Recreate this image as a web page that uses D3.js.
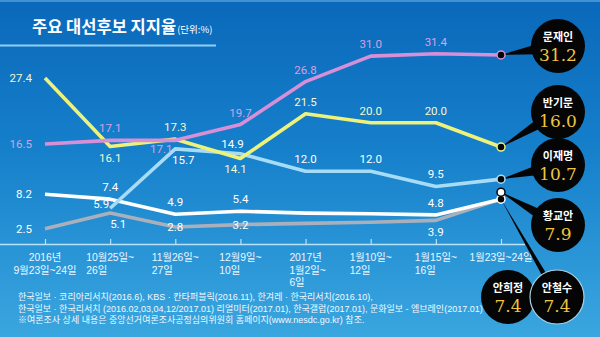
<!DOCTYPE html>
<html>
<head>
<meta charset="utf-8">
<script src="https://cdn.jsdelivr.net/npm/d3@7/dist/d3.min.js"></script>
<style>
  html, body { margin: 0; padding: 0; background: #0d6ebf; }
  svg { display: block; }
</style>
</head>
<body>
<svg id="chart" width="600" height="337"></svg>
<script>
// Poll dates (x categories), each split into display lines
const periods = [
  ["2016년", "9월23일~24일"],
  ["10월25일~", "26일"],
  ["11월26일~", "27일"],
  ["12월9일~", "10일"],
  ["2017년", "1월2일~", "6일"],
  ["1월10일~", "12일"],
  ["1월15일~", "16일"],
  ["1월23일~24일"]
];

// Support rates (%) per candidate
const moonJaein   = [16.5, 17.1, 17.1, 19.7, 26.8, 31.0, 31.4, 31.2];
const banKimoon   = [27.4, 16.1, 17.3, 14.1, 21.5, 20.0, 20.0, 16.0];
const leeJaemyung = [null, 5.9, 15.7, 14.9, 12.0, 12.0, 9.5, 10.7];
const ahnCheolsoo = [8.2, 7.4, 4.9, 5.4, 5.1, 5.0, 4.8, 7.4];
const ahnHeejung  = [2.5, 5.1, 2.8, 3.2, 3.4, 3.6, 3.9, 7.4];
const hwangKyoahn = 7.9;

const sourceLines = [
  "한국일보 · 코리아리서치(2016.6), KBS · 칸타퍼블릭(2016.11), 한겨레 · 한국리서치(2016.10),",
  "한국일보 · 한국리서치 (2016.02,03,04,12/2017.01) 리얼미터(2017.01), 한국갤럽(2017.01), 문화일보 - 엠브레인(2017.01)",
  "※여론조사 상세 내용은 중앙선거여론조사공정심의위원회 홈페이지(www.nesdc.go.kr) 참조."
];

const W = 600, H = 337;
const KR = "'Noto Sans CJK KR', 'Noto Sans', sans-serif";
// Latin digits from Liberation Sans, Hangul falls back to Noto Sans CJK
const MIXED = "'Liberation Sans', 'Noto Sans CJK KR', sans-serif";
const NUM = "Roboto, 'Liberation Sans', Arial, sans-serif";

const svg = d3.select("#chart");

// Background gradient
const defs = svg.append("defs");
const bg = defs.append("linearGradient").attr("id", "bg").attr("x1", 0).attr("y1", 0).attr("x2", 0).attr("y2", 1);
bg.append("stop").attr("offset", "0%").attr("stop-color", "#0a68ba");
bg.append("stop").attr("offset", "45%").attr("stop-color", "#1680cb");
bg.append("stop").attr("offset", "100%").attr("stop-color", "#3aa6df");
svg.append("rect").attr("width", W).attr("height", H).attr("fill", "url(#bg)");
svg.append("rect").attr("width", W).attr("height", 2).attr("fill", "#3f93d4");

// Title
const title = svg.append("text").attr("x", 32).attr("y", 33)
  .attr("font-family", KR).attr("fill", "#ffffff");
title.append("tspan").attr("font-size", 16.5).attr("font-weight", 700).text("주요 대선후보 지지율");
title.append("tspan").attr("font-size", 9.5).attr("dx", 1).text("(단위:%)");
svg.append("line").attr("x1", 0).attr("x2", 216).attr("y1", 45.5).attr("y2", 45.5)
  .attr("stroke", "#8fd0f5").attr("stroke-width", 2);

// Scales
const x = d3.scalePoint().domain(d3.range(periods.length)).range([45, 501]);
const y = d3.scaleLinear().domain([0, 40]).range([244, 1.6]);

// X axis: short upward ticks on a baseline; labels are drawn separately
const axis = svg.append("g").attr("transform", `translate(0,${y(0)})`)
  .call(d3.axisBottom(x).tickSizeInner(-5).tickSizeOuter(0).tickFormat(""));
axis.select(".domain").remove();
axis.selectAll(".tick text").remove();
axis.selectAll(".tick line").attr("stroke", "#b8e2f8").attr("stroke-width", 1.2);
svg.append("line").attr("x1", 0).attr("x2", 525).attr("y1", y(0) + 0.5).attr("y2", y(0) + 0.5)
  .attr("stroke", "#b8e2f8").attr("stroke-width", 1.6);

// Category labels: one text element per line; continuation lines align
// with the left edge of the first line (the first category is centred).
const tickLabels = svg.append("g").attr("font-family", MIXED).attr("font-size", 10.3).attr("fill", "#eef7ff");
periods.forEach((lines, i) => {
  const first = tickLabels.append("text")
    .attr("x", x(i)).attr("y", 261).attr("text-anchor", "middle").text(lines[0]);
  const w = first.node().getComputedTextLength();
  lines.slice(1).forEach((ln, k) => {
    const t = tickLabels.append("text").attr("y", 261 + (k + 1) * 12.5).text(ln);
    if (i === 0) t.attr("x", x(i)).attr("text-anchor", "middle");
    else t.attr("x", x(i) - w / 2).attr("text-anchor", "start");
  });
});

// Series
const series = [
  { name: "안희정", values: ahnHeejung,  color: "#a9b0bb", label: "#ffffff",
    place: ["left", "belowR", "on", "on", null, null, "below", null] },
  { name: "안철수", values: ahnCheolsoo, color: "#ffffff", label: "#ffffff",
    place: ["left", "above", "above", "above", null, null, "above", null] },
  { name: "이재명", values: leeJaemyung, color: "#a6dcf6", label: "#ffffff",
    place: [null, "sideL", "belowR", "aboveL", "above", "above", "above", null] },
  { name: "반기문", values: banKimoon,   color: "#eef27a", label: "#f4f8cc",
    place: ["left", "below", "above", "belowL", "above", "above", "above", null] },
  { name: "문재인", values: moonJaein,   color: "#d78fd8", label: "#d9a0e2",
    place: ["left", "above", "belowFarL", "above", "above", "above", "above", null] }
];

const line = d3.line()
  .defined(d => d != null)
  .x((d, i) => x(i))
  .y(d => y(d));

svg.append("g").selectAll("path").data(series).join("path")
  .attr("d", s => line(s.values))
  .attr("fill", "none")
  .attr("stroke", s => s.color)
  .attr("stroke-width", 3.6)
  .attr("stroke-linejoin", "round");

// Value labels
const offs = {
  left:      [-13, 4, "end"],
  above:     [0, -8, "middle"],
  aboveL:    [-8, -6, "middle"],
  sideL:     [-9, 0, "middle"],
  below:     [0, 16, "middle"],
  belowL:    [-5, 14, "middle"],
  belowFarL: [-14, 13, "middle"],
  belowR:    [8, 15, "middle"],
  on:        [0, 4, "middle"]
};
const labelG = svg.append("g").attr("font-family", NUM).attr("font-size", 11.5);
series.forEach(s => {
  s.values.forEach((v, i) => {
    const p = s.place[i];
    if (v == null || !p) return;
    const [dx, dy, anchor] = offs[p];
    labelG.append("text")
      .attr("x", x(i) + dx).attr("y", y(v) + dy)
      .attr("text-anchor", anchor)
      .attr("fill", s.label)
      .text(v.toFixed(1));
  });
});

// Callout bubbles for the latest poll
const last = periods.length - 1;
const callouts = [
  { name: "문재인", value: moonJaein[last],   cx: 558, cy: 46,  my: y(moonJaein[last]) },
  { name: "반기문", value: banKimoon[last],   cx: 558, cy: 112, my: y(banKimoon[last]) },
  { name: "이재명", value: leeJaemyung[last], cx: 558, cy: 165, my: y(leeJaemyung[last]) },
  { name: "황교안", value: hwangKyoahn,       cx: 558, cy: 225, my: y(hwangKyoahn) - 4 },
  { name: "안희정", value: ahnHeejung[last],  cx: 508, cy: 297, my: null },
  { name: "안철수", value: ahnCheolsoo[last], cx: 557, cy: 297, my: y(ahnCheolsoo[last]), ring: true }
];
const R = 27;
const bubbleG = svg.append("g");
callouts.forEach(c => {
  const g = bubbleG.append("g");
  if (c.my != null) {
    const mx = x(last);
    const ang = Math.atan2(c.cy - c.my, c.cx - mx);
    const half = c.ring ? 2.5 : 5;
    const bx = c.cx - Math.cos(ang) * (R - 6), by = c.cy - Math.sin(ang) * (R - 6);
    const nx = -Math.sin(ang) * half, ny = Math.cos(ang) * half;
    g.append("path")
      .attr("d", `M${mx},${c.my}L${bx + nx},${by + ny}L${bx - nx},${by - ny}Z`)
      .attr("fill", "#050505");
  }
  g.append("circle").attr("cx", c.cx).attr("cy", c.cy).attr("r", R)
    .attr("fill", "#050505")
    .attr("stroke", c.ring ? "#a9cfe6" : "none").attr("stroke-width", 1.2);
  g.append("text").attr("x", c.cx).attr("y", c.cy - 5)
    .attr("text-anchor", "middle").attr("font-family", KR).attr("font-weight", 700)
    .attr("font-size", 11).attr("fill", "#ffffff").text(c.name);
  g.append("text").attr("x", c.cx).attr("y", c.cy + 15)
    .attr("text-anchor", "middle").attr("font-family", "'DejaVu Serif', 'Liberation Serif', serif")
    .attr("font-size", 17).attr("fill", "#efc53e").text(c.value.toFixed(1));
});

// End markers
const markers = [
  { v: moonJaein[last],   dy: 0,  fill: "#050505", stroke: "#d78fd8" },
  { v: banKimoon[last],   dy: 0,  fill: "#050505", stroke: "#eef27a" },
  { v: leeJaemyung[last], dy: 0,  fill: "#050505", stroke: "#a6dcf6" },
  { v: ahnCheolsoo[last], dy: 0,  fill: "#050505", stroke: "#ffffff" },
  { v: hwangKyoahn,       dy: -4, fill: "#ffffff", stroke: "#050505" }
];
svg.append("g").selectAll("circle").data(markers).join("circle")
  .attr("cx", x(last)).attr("cy", d => y(d.v) + d.dy).attr("r", 4)
  .attr("fill", d => d.fill).attr("stroke", d => d.stroke).attr("stroke-width", 1.5);

// Sources
const src = svg.append("g").attr("font-family", MIXED).attr("font-size", 9).attr("fill", "#f2f8ff");
sourceLines.forEach((t, i) => {
  src.append("text").attr("x", 18).attr("y", 300 + i * 11.5).text(t);
});
</script>
</body>
</html>
